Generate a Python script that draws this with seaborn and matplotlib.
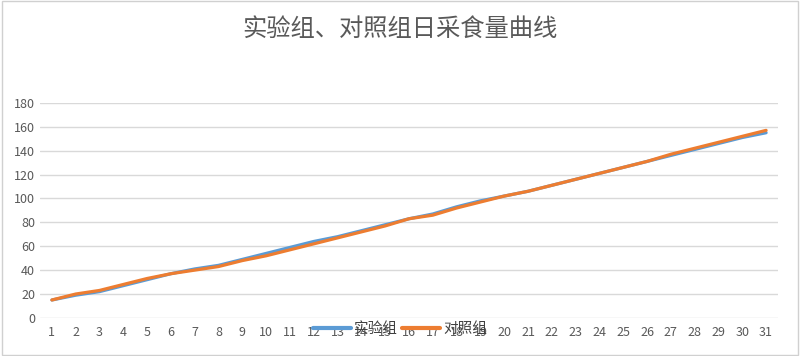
import matplotlib
matplotlib.use("Agg")
import matplotlib.pyplot as plt
import seaborn as sns
import pandas as pd

# 数据
days = list(range(1, 32))
shiyan = [15, 19, 22, 27, 32, 37, 41, 44, 49, 54, 59, 64, 68, 73, 78, 83, 87, 93, 98, 102,
          106, 111, 116, 121, 126, 131, 136, 141, 146, 151, 155]
duizhao = [15, 20, 23, 28, 33, 37, 40, 43, 48, 52, 57, 62, 67, 72, 77, 83, 86, 92, 97, 102,
           106, 111, 116, 121, 126, 131, 137, 142, 147, 152, 157]
series_names = ["实验组", "对照组"]
colors = ["#5B9BD5", "#ED7D31"]

df = pd.DataFrame({"day": days * 2,
                   "value": shiyan + duizhao,
                   "group": [series_names[0]] * 31 + [series_names[1]] * 31})

sns.set_style("white")
plt.rcParams["font.family"] = ["Noto Sans CJK SC", "DejaVu Sans"]

fig = plt.figure(figsize=(8, 3.56), dpi=100)
ax = fig.add_axes([0.05, 0.107, 0.9225, 0.604])

sns.lineplot(data=df, x="day", y="value", hue="group", palette=colors,
             linewidth=2.3, ax=ax, legend=False)

ax.set_xlim(0.5, 31.5)
ax.set_ylim(0, 180)
ax.set_yticks(range(0, 181, 20))
ax.set_xticks(days)
ax.set_xticklabels([str(d) for d in days])
ax.tick_params(axis="both", length=0, labelsize=9, labelcolor="#595959")
ax.tick_params(axis="x", pad=6)
ax.grid(axis="y", color="#d9d9d9", linewidth=1)
ax.set_axisbelow(True)
for s in ax.spines.values():
    s.set_visible(False)
ax.set_xlabel("")
ax.set_ylabel("")

# 图例（与刻度标签重叠）
handles = [plt.Line2D([], [], color=c, linewidth=3) for c in colors]
fig.legend(handles, series_names, loc="center", bbox_to_anchor=(0.5, 0.075),
           ncol=2, frameon=False, fontsize=10.5, handlelength=2.6,
           handletextpad=0.2, columnspacing=0.3, labelcolor="#404040")

fig.suptitle("实验组、对照组日采食量曲线", y=0.955, fontsize=17.5, color="#595959")

# 外边框
fig.patches.append(plt.Rectangle((0.002, 0.003), 0.996, 0.994, transform=fig.transFigure,
                                 fill=False, edgecolor="#d0d0d0", linewidth=1))

fig.savefig("out.png", dpi=100)
